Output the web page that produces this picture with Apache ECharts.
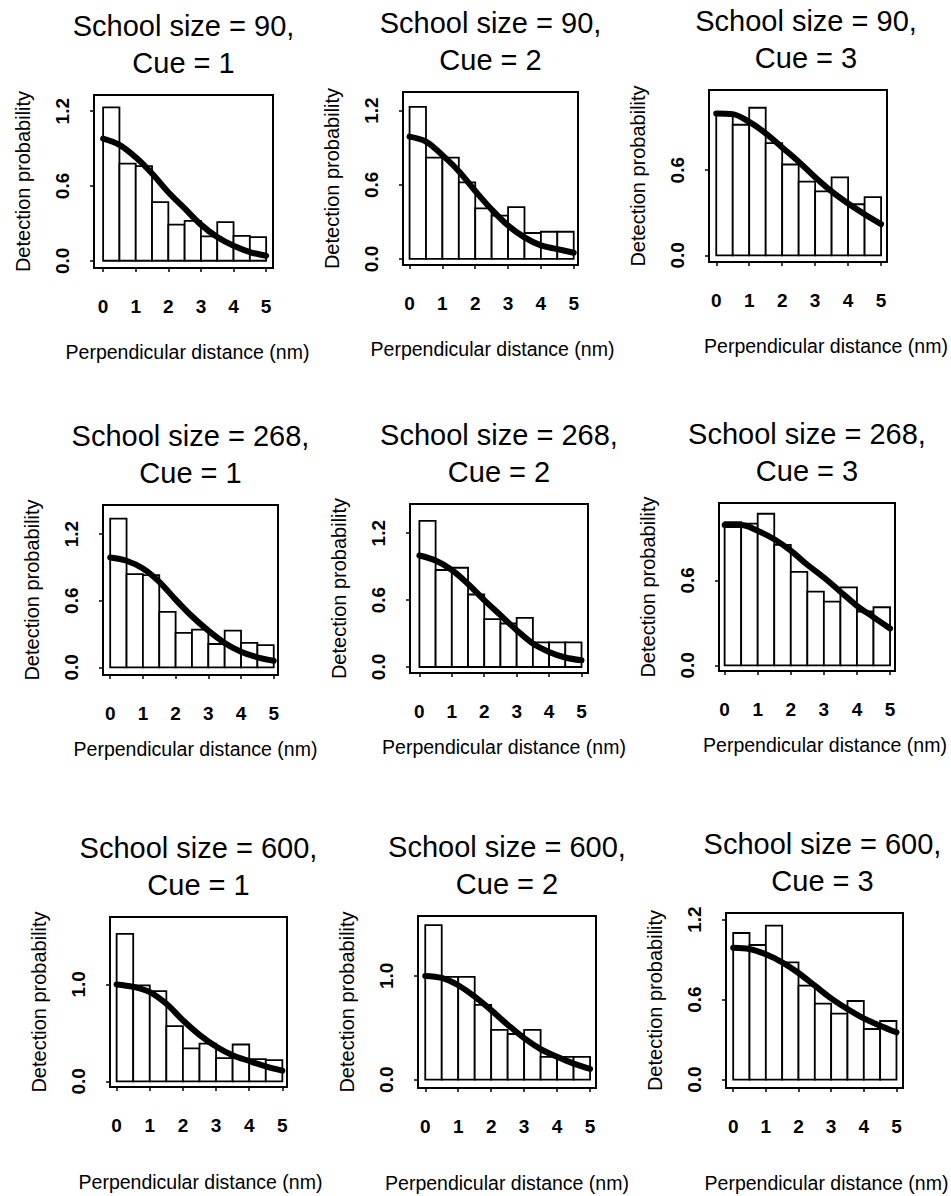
<!DOCTYPE html>
<html>
<head>
<meta charset="utf-8">
<script src="https://cdn.jsdelivr.net/npm/echarts@6/dist/echarts.min.js"></script>
<style>
  html, body { margin: 0; padding: 0; background: #ffffff; }
  #chart { width: 951px; height: 1196px; }
</style>
</head>
<body>
<div id="chart"></div>
<script>
// Detection-function fits by school size and cue
const schoolSizes = [90, 268, 600];
const cues = [1, 2, 3];
const binEdges = [0, 0.5, 1, 1.5, 2, 2.5, 3, 3.5, 4, 4.5, 5];
const xTicks = [0, 1, 2, 3, 4, 5];
const curveX = [0, 0.5, 1, 1.5, 2, 2.5, 3, 3.5, 4, 4.5, 5];

// Scaled histogram heights (one value per 0.5 nm bin)
const bars90Cue1 = [1.23, 0.78, 0.76, 0.47, 0.29, 0.32, 0.195, 0.31, 0.20, 0.19];
const bars90Cue2 = [1.23, 0.82, 0.82, 0.62, 0.41, 0.35, 0.42, 0.21, 0.22, 0.22];
const bars90Cue3 = [1.0, 0.92, 1.04, 0.79, 0.64, 0.52, 0.45, 0.55, 0.36, 0.41];
const bars268Cue1 = [1.34, 0.84, 0.83, 0.50, 0.31, 0.34, 0.21, 0.33, 0.22, 0.20];
const bars268Cue2 = [1.31, 0.87, 0.89, 0.65, 0.43, 0.39, 0.44, 0.22, 0.22, 0.22];
const bars268Cue3 = [1.01, 1.0, 1.07, 0.85, 0.66, 0.52, 0.45, 0.55, 0.38, 0.41];
const bars600Cue1 = [1.52, 0.99, 0.93, 0.57, 0.34, 0.39, 0.24, 0.38, 0.23, 0.22];
const bars600Cue2 = [1.49, 0.99, 0.99, 0.72, 0.48, 0.44, 0.48, 0.22, 0.22, 0.22];
const bars600Cue3 = [1.10, 1.01, 1.155, 0.88, 0.705, 0.57, 0.495, 0.59, 0.38, 0.44];

// Fitted detection probability at curveX
const curve90Cue1 = [0.98, 0.93, 0.83, 0.70, 0.55, 0.42, 0.29, 0.19, 0.12, 0.07, 0.04];
const curve90Cue2 = [0.99, 0.95, 0.84, 0.71, 0.55, 0.40, 0.27, 0.175, 0.11, 0.08, 0.05];
const curve90Cue3 = [1.0, 0.995, 0.94, 0.86, 0.76, 0.66, 0.55, 0.45, 0.365, 0.29, 0.22];
const curve268Cue1 = [0.99, 0.96, 0.89, 0.77, 0.61, 0.46, 0.33, 0.22, 0.14, 0.09, 0.06];
const curve268Cue2 = [1.0, 0.955, 0.87, 0.745, 0.60, 0.465, 0.33, 0.21, 0.135, 0.085, 0.06];
const curve268Cue3 = [0.99, 0.99, 0.95, 0.89, 0.81, 0.71, 0.62, 0.52, 0.42, 0.34, 0.26];
const curve600Cue1 = [1.0, 0.975, 0.92, 0.80, 0.63, 0.48, 0.36, 0.27, 0.21, 0.155, 0.11];
const curve600Cue2 = [1.0, 0.98, 0.91, 0.80, 0.67, 0.53, 0.40, 0.295, 0.22, 0.155, 0.105];
const curve600Cue3 = [0.99, 0.98, 0.94, 0.88, 0.80, 0.705, 0.61, 0.53, 0.46, 0.405, 0.355];

// Y tick labels used by the panels
const yTicksFine = [0, 0.6, 1.2];
const yTicksShort = [0, 0.6];
const yTicksUnit = [0, 1.0];

const barSets = [
  [bars90Cue1, bars90Cue2, bars90Cue3],
  [bars268Cue1, bars268Cue2, bars268Cue3],
  [bars600Cue1, bars600Cue2, bars600Cue3]
];
const curveSets = [
  [curve90Cue1, curve90Cue2, curve90Cue3],
  [curve268Cue1, curve268Cue2, curve268Cue3],
  [curve600Cue1, curve600Cue2, curve600Cue3]
];
const tickSets = [
  [yTicksFine, yTicksFine, yTicksShort],
  [yTicksFine, yTicksFine, yTicksShort],
  [yTicksUnit, yTicksUnit, yTicksFine]
];

// Plot boxes in pixels, axis extents and x-title shift for each panel (row-major)
const panelLayout = [
  { l: 94,  t: 95,  r: 273, b: 268,  xMin: -0.28, xMax: 5.21, yMin: -0.058, yMax: 1.33,  nameShift: 4 },
  { l: 403, t: 92,  r: 578, b: 265,  xMin: -0.20, xMax: 5.13, yMin: -0.049, yMax: 1.351, nameShift: 2 },
  { l: 709, t: 90,  r: 887, b: 262,  xMin: -0.22, xMax: 5.18, yMin: -0.047, yMax: 1.165, nameShift: 28 },
  { l: 103, t: 505, r: 278, b: 675,  xMin: -0.22, xMax: 5.13, yMin: -0.069, yMax: 1.462, nameShift: 5 },
  { l: 410, t: 504, r: 588, b: 673,  xMin: -0.29, xMax: 5.20, yMin: -0.054, yMax: 1.462, nameShift: 5 },
  { l: 719, t: 503, r: 895, b: 671,  xMin: -0.17, xMax: 5.15, yMin: -0.04,  yMax: 1.146, nameShift: 18 },
  { l: 110, t: 917, r: 287, b: 1087, xMin: -0.20, xMax: 5.14, yMin: -0.058, yMax: 1.695, nameShift: 2 },
  { l: 418, t: 916, r: 596, b: 1088, xMin: -0.22, xMax: 5.18, yMin: -0.08,  yMax: 1.577, nameShift: 0 },
  { l: 726, t: 913, r: 903, b: 1088, xMin: -0.22, xMax: 5.20, yMin: -0.0625, yMax: 1.25, nameShift: 12 }
];
// gap from plot bottom to the x-axis title, per row
const xNameGaps = [74, 64, 85];

const FONT = '"Liberation Sans", Arial, Helvetica, sans-serif';

const grids = [], xAxes = [], yAxes = [], series = [], graphics = [];

schoolSizes.forEach(function (size, row) {
  cues.forEach(function (cue, col) {
    const i = row * 3 + col;
    const box = panelLayout[i];
    const bars = barSets[row][col];
    const curve = curveSets[row][col];
    const yTicks = tickSets[row][col];

    grids.push({
      left: box.l, top: box.t, width: box.r - box.l, height: box.b - box.t,
      show: true, borderColor: '#000', borderWidth: 2, backgroundColor: 'transparent',
      containLabel: false
    });

    const shift = box.nameShift;
    xAxes.push({
      type: 'value', gridIndex: i, min: box.xMin, max: box.xMax,
      axisLine: { show: false, onZero: false },
      splitLine: { show: false },
      axisTick: { show: true, length: 4, customValues: xTicks, lineStyle: { color: '#000', width: 1.5 } },
      axisLabel: {
        customValues: xTicks, margin: 29, color: '#000',
        fontSize: 19, fontWeight: 'bold', fontFamily: FONT
      },
      name: 'Perpendicular distance (nm)', nameLocation: 'middle', nameGap: xNameGaps[row],
      nameTextStyle: {
        color: '#000', fontSize: 19.5, fontFamily: FONT,
        padding: [0, shift > 0 ? 0 : -2 * shift, 0, shift > 0 ? 2 * shift : 0]
      }
    });

    yAxes.push({
      type: 'value', gridIndex: i, min: box.yMin, max: box.yMax,
      axisLine: { show: false, onZero: false },
      splitLine: { show: false },
      axisTick: { show: true, length: 4, customValues: yTicks, lineStyle: { color: '#000', width: 1.5 } },
      axisLabel: {
        customValues: yTicks, rotate: 90, margin: 22, color: '#000',
        fontSize: 19, fontWeight: 'bold', fontFamily: FONT,
        formatter: function (v) { return v.toFixed(1); }
      },
      name: 'Detection probability', nameLocation: 'middle', nameRotate: 90, nameGap: 61,
      nameTextStyle: { color: '#000', fontSize: 20, fontFamily: FONT }
    });

    // histogram bars
    series.push({
      type: 'custom', xAxisIndex: i, yAxisIndex: i, z: 2,
      encode: { x: [0, 1], y: 2 },
      data: bars.map(function (h, k) { return [binEdges[k], binEdges[k + 1], h]; }),
      renderItem: function (params, api) {
        const topLeft = api.coord([api.value(0), api.value(2)]);
        const bottomRight = api.coord([api.value(1), 0]);
        return {
          type: 'rect',
          shape: {
            x: topLeft[0], y: topLeft[1],
            width: bottomRight[0] - topLeft[0], height: bottomRight[1] - topLeft[1]
          },
          style: { fill: '#fff', stroke: '#000', lineWidth: 1.8 }
        };
      },
      silent: true
    });

    // fitted detection function
    series.push({
      type: 'line', xAxisIndex: i, yAxisIndex: i, z: 3,
      data: curveX.map(function (x, k) { return [x, curve[k]]; }),
      smooth: 0.35, showSymbol: false, symbol: 'none',
      lineStyle: { color: '#000', width: 6, cap: 'round', join: 'round' },
      silent: true
    });

    // two-line panel title
    const cx = (box.l + box.r) / 2 + (col === 2 && row !== 1 ? 8 : 0);
    graphics.push({
      type: 'text', x: cx, y: box.t - 69,
      style: {
        text: 'School size = ' + size + ',', fill: '#000',
        font: '29px ' + FONT, align: 'center', verticalAlign: 'middle'
      }
    });
    graphics.push({
      type: 'text', x: cx, y: box.t - 32,
      style: {
        text: 'Cue = ' + cue, fill: '#000',
        font: '29px ' + FONT, align: 'center', verticalAlign: 'middle'
      }
    });
  });
});

const chart = echarts.init(document.getElementById('chart'), null, { renderer: 'svg' });
chart.setOption({
  backgroundColor: '#ffffff',
  animation: false,
  grid: grids,
  xAxis: xAxes,
  yAxis: yAxes,
  series: series,
  graphic: graphics
});
</script>
</body>
</html>
